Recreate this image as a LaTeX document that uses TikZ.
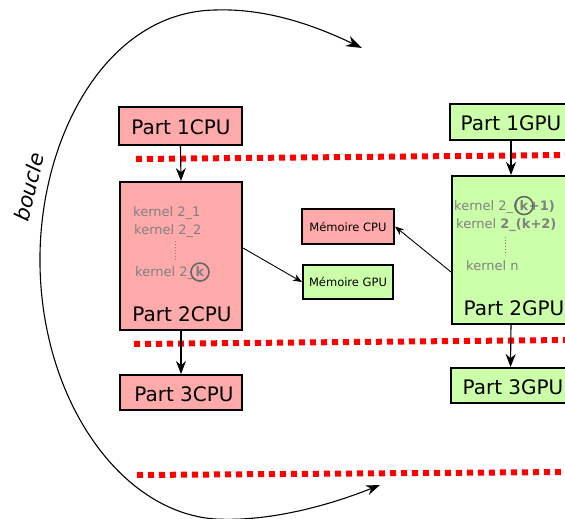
\documentclass[tikz,border=0pt]{standalone}
\usepackage{fontspec}
\setmainfont{DejaVu Sans}
\usetikzlibrary{arrows.meta}
\definecolor{cpufill}{HTML}{FFAAAA}
\definecolor{gpufill}{HTML}{CCFFAA}
\definecolor{kgray}{HTML}{808080}
\begin{document}
\begin{tikzpicture}[x=1pt,y=-1pt,
  box/.style={draw=black,line width=2pt,inner sep=0pt},
  cpubox/.style={box,fill=cpufill},
  gpubox/.style={box,fill=gpufill},
  parttxt/.style={font=\fontsize{20}{22}\selectfont,text=black},
  memtxt/.style={font=\fontsize{11.5}{13}\selectfont},
  ktxt/.style={font=\fontsize{13}{15}\selectfont,text=kgray,anchor=base west,inner sep=0pt},
  sep/.style={red,line width=6pt,dash pattern=on 6pt off 5pt},
  arr/.style={-{Stealth[length=13pt,width=10pt]},line width=1.1pt},
  sarr/.style={-{Stealth[length=9pt,width=7pt]},line width=0.9pt},
  kcirc/.style={draw=black!60,line width=1.6pt},
  kdots/.style={draw=kgray,dotted,line width=1pt}]
\useasboundingbox (0,0) rectangle (565,519);
\clip (0,0) rectangle (565,519);
% separators
\draw[sep] (136,159) -- (570,155);
\draw[sep] (134,344) -- (570,340);
\draw[sep] (137,475) -- (570,472);
% boxes
\node[cpubox,minimum width=123pt,minimum height=38pt] (p1c) at (180.5,126) {};
\node[parttxt] (t1c) at (181,127) {Part 1CPU};
\node[gpubox,minimum width=122pt,minimum height=36pt] (p1g) at (511,122) {};
\node[parttxt] (t1g) at (511,123) {Part 1GPU};
\node[cpubox,minimum width=122pt,minimum height=148pt] (p2c) at (181,256) {};
\node[parttxt] (t2c) at (182,314) {Part 2CPU};
\node[gpubox,minimum width=118pt,minimum height=148pt] (p2g) at (511,250) {};
\node[parttxt] (t2g) at (514,308) {Part 2GPU};
\node[cpubox,minimum width=122pt,minimum height=35pt] (p3c) at (181,392.5) {};
\node[parttxt] (t3c) at (184,394) {Part 3CPU};
\node[gpubox,minimum width=119pt,minimum height=35pt] (p3g) at (510.5,385.5) {};
\node[parttxt] (t3g) at (513,387) {Part 3GPU};
\node[cpubox,minimum width=92pt,minimum height=35pt,memtxt] (mc) at (348,226.5) {Mémoire CPU};
\node[gpubox,minimum width=90pt,minimum height=34pt,memtxt] (mg) at (348,282) {Mémoire GPU};
% kernel texts CPU
\node[ktxt] (kc1) at (133,216.5) {kernel 2\_1};
\node[ktxt] (kc2) at (134,234.5) {kernel 2\_2};
\draw[kdots] (175,241) -- (175,260);
\node[ktxt] (kc3) at (135,276.5) {kernel 2\_};
\node[ktxt] (kc3k) at ([xshift=1pt]kc3.base east) {\textbf{k}};
\draw[kcirc] ([yshift=-0.5pt]kc3k.center) circle (9pt);
% kernel texts GPU
\node[ktxt] (kg1) at (454,210) {kernel 2\_\textbf{(}};
\node[ktxt] (kg1k) at (kg1.base east) {\textbf{k}};
\node[ktxt] (kg1r) at (kg1k.base east) {\textbf{+1)}};
\draw[kcirc] ([yshift=-0.5pt]kg1k.center) circle (9pt);
\node[ktxt] (kg2) at (456,228) {kernel \textbf{2\_(k+2)}};
\draw[kdots] (505,237) -- (505,253);
\node[ktxt] (kg3) at (466,270.5) {kernel n};
% connectors
\draw[arr] (p1c.south) -- (p2c.north);
\draw[arr] (p1g.south) -- (p2g.north);
\draw[arr] (p2c.south) -- (p3c.north);
\draw[arr] (p2g.south) -- (p3g.north);
\draw[sarr] ([yshift=8pt]p2c.east) -- (mg.west);
\draw[sarr] ([yshift=-22pt]p2g.west) -- (mc.east);
% loop
\coordinate (lb) at (380,485);
\coordinate (lt) at (362,48);
\draw[line width=1.1pt,{Stealth[length=14pt,width=10pt]}-{Stealth[length=16pt,width=11pt]}]
  (lb) .. controls (330,505) and (270,522) .. (215,519)
  .. controls (120,512) and (42,400) .. (40,265)
  .. controls (38,140) and (105,12) .. (215,10)
  .. controls (270,8) and (320,28) .. (lt);
\node[rotate=76,font=\itshape\fontsize{21}{23}\selectfont] (bl) at (29,187) {boucle};
\end{tikzpicture}
\end{document}
